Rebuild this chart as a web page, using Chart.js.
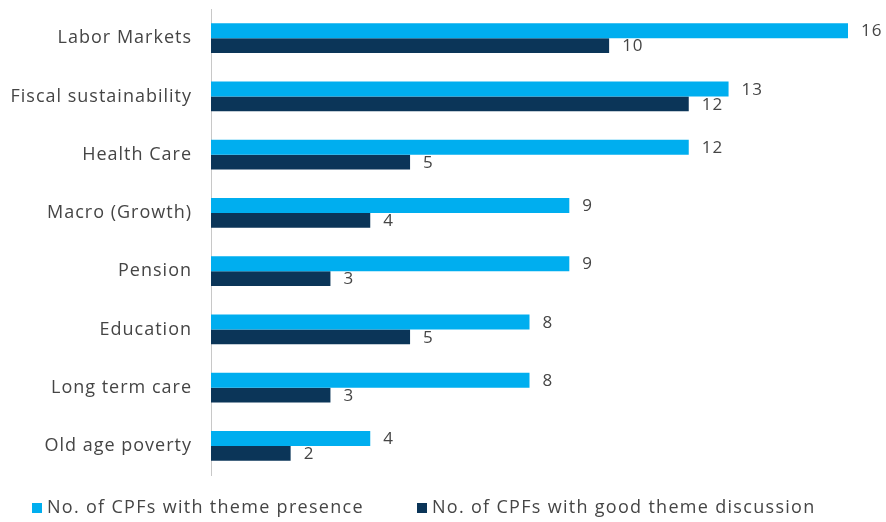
<!DOCTYPE html>
<html>
<head>
<meta charset="utf-8">
<script src="https://cdn.jsdelivr.net/npm/chart.js@4.4.1/dist/chart.umd.min.js"></script>
<style>
  html, body { margin: 0; padding: 0; background: #fff; }
  #wrap { width: 886px; height: 522px; position: relative; }
</style>
</head>
<body>
<div id="wrap"><canvas id="themeChart"></canvas></div>
<script>
// Thèmes et nombre de CPF
const themes = ['Labor Markets', 'Fiscal sustainability', 'Health Care', 'Macro (Growth)',
                'Pension', 'Education', 'Long term care', 'Old age poverty'];
const presence = [16, 13, 12, 9, 9, 8, 8, 4];
const goodDiscussion = [10, 12, 5, 4, 3, 5, 3, 2];
const seriesNames = ['No. of CPFs with theme presence', 'No. of CPFs with good theme discussion'];

const lightBlue = '#00AEEF';
const navy = '#0B3558';
const textColor = '#454545';

// Police un peu plus espacée pour tous les textes du canvas
const spacedText = {
    id: 'spacedText',
    beforeDraw(chart) {
        chart.ctx.letterSpacing = '1px';
    }
};

// Valeurs écrites au bout de chaque barre
const barValues = {
    id: 'barValues',
    afterDatasetsDraw(chart) {
        const ctx = chart.ctx;
        ctx.save();
        ctx.font = '17px "Open Sans"';
        ctx.fillStyle = textColor;
        ctx.textBaseline = 'middle';
        chart.data.datasets.forEach((ds, i) => {
            chart.getDatasetMeta(i).data.forEach((bar, j) => {
                ctx.fillText(ds.data[j], bar.x + 13, bar.y + 1);
            });
        });
        ctx.restore();
    }
};

// Légende dessinée à la main en bas
const bottomLegend = {
    id: 'bottomLegend',
    afterDraw(chart) {
        const ctx = chart.ctx;
        const startX = [32, 417];
        const y = 508;
        ctx.save();
        ctx.font = '18px "Open Sans"';
        ctx.letterSpacing = '1.3px';
        ctx.textBaseline = 'middle';
        chart.data.datasets.forEach((ds, i) => {
            ctx.fillStyle = ds.backgroundColor;
            ctx.fillRect(startX[i], y - 5, 10, 10);
            ctx.fillStyle = textColor;
            ctx.fillText(ds.label, startX[i] + 15, y);
        });
        ctx.restore();
    }
};

new Chart(document.getElementById('themeChart'), {
    type: 'bar',
    data: {
        labels: themes,
        datasets: [{
            label: seriesNames[0],
            data: presence,
            backgroundColor: lightBlue,
            categoryPercentage: 0.515,
            barPercentage: 1
        }, {
            label: seriesNames[1],
            data: goodDiscussion,
            backgroundColor: navy,
            categoryPercentage: 0.515,
            barPercentage: 1
        }]
    },
    options: {
        indexAxis: 'y',
        responsive: true,
        maintainAspectRatio: false,
        animation: false,
        layout: { padding: { left: 0, right: 38, top: 9, bottom: 47 } },
        scales: {
            x: {
                min: 0,
                max: 16,
                display: false
            },
            y: {
                grid: { display: false, drawTicks: false },
                border: { display: true, color: '#c8c8c8', width: 1 },
                ticks: {
                    color: textColor,
                    font: { family: 'Open Sans', size: 18 },
                    padding: 19
                },
                afterFit(scale) {
                    scale.width = 211;
                    // pas de marge supplémentaire au-dessus / en dessous des libellés
                    scale.paddingTop = 0;
                    scale.paddingBottom = 0;
                }
            }
        },
        plugins: {
            legend: { display: false },
            tooltip: { enabled: false }
        }
    },
    plugins: [spacedText, barValues, bottomLegend]
});
</script>
</body>
</html>
